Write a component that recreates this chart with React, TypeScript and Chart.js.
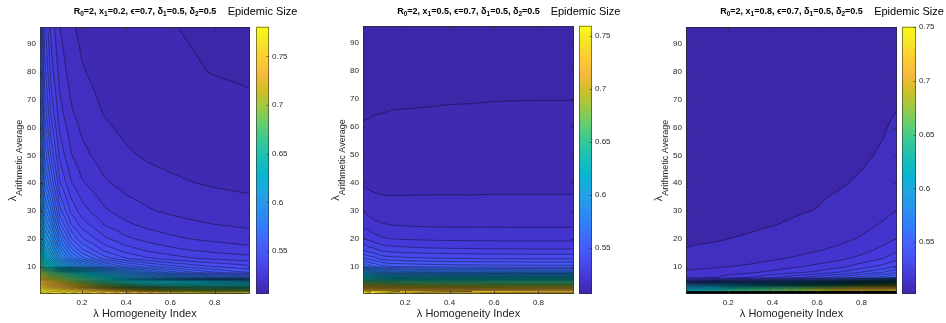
import React, { useEffect, useRef } from "react";
import { Chart, registerables } from "chart.js";

Chart.register(...registerables);

// ---------------- data ----------------
// grid columns: lambda (homogeneity index)
const LAMBDA = [0.01, 0.03, 0.06, 0.1, 0.15, 0.2, 0.3, 0.4, 0.5, 0.6, 0.7, 0.8, 0.9, 0.96];
// grid rows: Phi (arithmetic average)
const PHI = [0.2, 1, 2, 3, 4, 5, 6, 8, 10, 13, 16, 20, 25, 30, 40, 50, 65, 80, 96.2];

// epidemic size, one row per PHI value, one column per LAMBDA value
const SIZE_X1_02 = [
  [0.78, 0.776, 0.772, 0.77, 0.765, 0.76, 0.752, 0.744, 0.734, 0.725, 0.72, 0.718, 0.717, 0.716],
  [0.775, 0.77, 0.766, 0.765, 0.76, 0.755, 0.748, 0.74, 0.73, 0.72, 0.715, 0.712, 0.711, 0.71],
  [0.768, 0.763, 0.758, 0.755, 0.748, 0.742, 0.73, 0.715, 0.7, 0.69, 0.685, 0.682, 0.681, 0.68],
  [0.76, 0.752, 0.745, 0.74, 0.73, 0.72, 0.7, 0.68, 0.665, 0.658, 0.655, 0.652, 0.651, 0.65],
  [0.75, 0.74, 0.732, 0.725, 0.712, 0.7, 0.675, 0.655, 0.645, 0.64, 0.637, 0.635, 0.633, 0.632],
  [0.74, 0.73, 0.72, 0.71, 0.695, 0.68, 0.655, 0.64, 0.632, 0.628, 0.624, 0.62, 0.615, 0.61],
  [0.725, 0.715, 0.705, 0.695, 0.68, 0.665, 0.64, 0.62, 0.608, 0.6, 0.592, 0.585, 0.58, 0.578],
  [0.7, 0.69, 0.675, 0.665, 0.65, 0.635, 0.61, 0.59, 0.577, 0.567, 0.56, 0.555, 0.551, 0.549],
  [0.675, 0.655, 0.642, 0.62, 0.603, 0.592, 0.575, 0.564, 0.557, 0.552, 0.548, 0.545, 0.543, 0.541],
  [0.652, 0.632, 0.618, 0.5961, 0.5787, 0.5671, 0.5526, 0.545, 0.5405, 0.5375, 0.5353, 0.5337, 0.5325, 0.5318],
  [0.64, 0.62, 0.606, 0.5852, 0.5676, 0.5559, 0.5437, 0.5376, 0.5339, 0.5314, 0.5297, 0.5284, 0.5274, 0.5268],
  [0.628, 0.608, 0.597, 0.5733, 0.5556, 0.5458, 0.5361, 0.5311, 0.5282, 0.5262, 0.5248, 0.5238, 0.523, 0.5225],
  [0.618, 0.597, 0.585, 0.5613, 0.5455, 0.5377, 0.5299, 0.526, 0.5236, 0.522, 0.5209, 0.5201, 0.5195, 0.5191],
  [0.61, 0.588, 0.5754, 0.5519, 0.5388, 0.5323, 0.5258, 0.5225, 0.5205, 0.5192, 0.5183, 0.5176, 0.5171, 0.5168],
  [0.598, 0.574, 0.5599, 0.5403, 0.5305, 0.5256, 0.5207, 0.5182, 0.5167, 0.5158, 0.5151, 0.5145, 0.5141, 0.5139],
  [0.59, 0.565, 0.549, 0.5333, 0.5254, 0.5215, 0.5176, 0.5156, 0.5144, 0.5137, 0.5131, 0.5127, 0.5124, 0.5122],
  [0.58, 0.555, 0.5389, 0.5268, 0.5208, 0.5178, 0.5148, 0.5132, 0.5123, 0.5117, 0.5113, 0.511, 0.5108, 0.5106],
  [0.573, 0.548, 0.5326, 0.5228, 0.5179, 0.5154, 0.513, 0.5118, 0.511, 0.5105, 0.5102, 0.5099, 0.5097, 0.5096],
  [0.568, 0.542, 0.528, 0.5199, 0.5158, 0.5137, 0.5117, 0.5108, 0.5104, 0.5101, 0.5098, 0.5095, 0.5092, 0.509],
];

const SIZE_X1_05 = [
  [0.745, 0.742, 0.738, 0.735, 0.73, 0.728, 0.725, 0.723, 0.722, 0.721, 0.72, 0.72, 0.72, 0.72],
  [0.75, 0.748, 0.746, 0.745, 0.743, 0.741, 0.739, 0.738, 0.737, 0.736, 0.736, 0.735, 0.735, 0.735],
  [0.73, 0.728, 0.726, 0.724, 0.722, 0.72, 0.718, 0.717, 0.716, 0.716, 0.715, 0.715, 0.715, 0.715],
  [0.705, 0.703, 0.7, 0.698, 0.696, 0.694, 0.692, 0.691, 0.69, 0.69, 0.69, 0.69, 0.69, 0.69],
  [0.68, 0.677, 0.674, 0.672, 0.67, 0.668, 0.667, 0.666, 0.666, 0.665, 0.665, 0.665, 0.665, 0.665],
  [0.655, 0.652, 0.65, 0.648, 0.647, 0.646, 0.645, 0.645, 0.645, 0.645, 0.645, 0.645, 0.645, 0.645],
  [0.635, 0.632, 0.628, 0.625, 0.622, 0.621, 0.62, 0.62, 0.62, 0.62, 0.62, 0.62, 0.62, 0.62],
  [0.6, 0.596, 0.59, 0.584, 0.58, 0.578, 0.577, 0.576, 0.5755, 0.575, 0.5752, 0.575, 0.575, 0.575],
  [0.572, 0.564, 0.56, 0.5565, 0.555, 0.5545, 0.5535, 0.553, 0.5527, 0.5524, 0.5522, 0.552, 0.552, 0.552],
  [0.5502, 0.5485, 0.5463, 0.5425, 0.5415, 0.541, 0.5402, 0.5398, 0.5395, 0.5393, 0.5392, 0.539, 0.539, 0.539],
  [0.54, 0.5375, 0.5364, 0.5333, 0.5325, 0.532, 0.5313, 0.531, 0.5308, 0.5307, 0.5306, 0.5305, 0.5305, 0.5305],
  [0.5309, 0.5292, 0.527, 0.5255, 0.5248, 0.5244, 0.524, 0.5238, 0.5237, 0.5236, 0.5235, 0.5235, 0.5235, 0.5235],
  [0.5238, 0.5228, 0.5212, 0.5203, 0.5198, 0.5195, 0.5193, 0.5192, 0.5192, 0.5192, 0.5192, 0.5192, 0.5192, 0.5192],
  [0.5197, 0.5188, 0.5176, 0.517, 0.5168, 0.5167, 0.5167, 0.5167, 0.5167, 0.5167, 0.5167, 0.5167, 0.5167, 0.5167],
  [0.5142, 0.5139, 0.5136, 0.5134, 0.5135, 0.5136, 0.5137, 0.5137, 0.5137, 0.5138, 0.5138, 0.5138, 0.5138, 0.5138],
  [0.5118, 0.5117, 0.5118, 0.5116, 0.5117, 0.5118, 0.512, 0.5121, 0.5121, 0.5122, 0.5122, 0.5122, 0.5122, 0.5122],
  [0.5096, 0.5097, 0.5099, 0.51, 0.5101, 0.5101, 0.51015, 0.5102, 0.51023, 0.51026, 0.51028, 0.5103, 0.5103, 0.5103],
  [0.5084, 0.5085, 0.5086, 0.5088, 0.5089, 0.509, 0.5091, 0.5092, 0.5092, 0.5093, 0.5093, 0.5093, 0.5093, 0.5093],
  [0.5075, 0.5076, 0.5077, 0.5078, 0.5079, 0.508, 0.5081, 0.5082, 0.5083, 0.5084, 0.5084, 0.5085, 0.5085, 0.5085],
];

const SIZE_X1_08 = [
  [0.502, 0.502, 0.502, 0.502, 0.502, 0.502, 0.502, 0.502, 0.502, 0.502, 0.502, 0.502, 0.502, 0.502],
  [0.625, 0.622, 0.625, 0.63, 0.635, 0.645, 0.655, 0.665, 0.675, 0.69, 0.705, 0.72, 0.735, 0.745],
  [0.615, 0.612, 0.615, 0.62, 0.625, 0.635, 0.645, 0.655, 0.665, 0.68, 0.69, 0.705, 0.718, 0.73],
  [0.6, 0.597, 0.6, 0.605, 0.61, 0.615, 0.625, 0.635, 0.645, 0.655, 0.665, 0.68, 0.69, 0.7],
  [0.575, 0.572, 0.575, 0.578, 0.582, 0.585, 0.59, 0.595, 0.6, 0.61, 0.62, 0.635, 0.645, 0.655],
  [0.535, 0.536, 0.537, 0.538, 0.54, 0.545, 0.55, 0.555, 0.56, 0.565, 0.57, 0.58, 0.59, 0.6],
  [0.5191, 0.5191, 0.5192, 0.5194, 0.52, 0.523, 0.5255, 0.53, 0.534, 0.539, 0.543, 0.548, 0.553, 0.557],
  [0.5159, 0.516, 0.5162, 0.5163, 0.5167, 0.5173, 0.519, 0.5213, 0.5236, 0.5261, 0.53, 0.535, 0.54, 0.5445],
  [0.5137, 0.5138, 0.514, 0.5143, 0.5146, 0.515, 0.5158, 0.5174, 0.5195, 0.5213, 0.5235, 0.5277, 0.5318, 0.536],
  [0.5116, 0.5117, 0.5119, 0.512, 0.5123, 0.5127, 0.5132, 0.5142, 0.5155, 0.5171, 0.5188, 0.5214, 0.525, 0.5281],
  [0.5103, 0.5104, 0.5106, 0.5107, 0.5109, 0.5112, 0.5117, 0.5125, 0.5134, 0.5146, 0.516, 0.5181, 0.5214, 0.5238],
  [0.509, 0.5092, 0.5094, 0.5095, 0.5097, 0.51, 0.5104, 0.511, 0.5118, 0.5127, 0.5138, 0.5155, 0.5182, 0.5202],
  [0.508, 0.5083, 0.5085, 0.5086, 0.5089, 0.5091, 0.5095, 0.5099, 0.5104, 0.5111, 0.512, 0.5134, 0.5156, 0.5172],
  [0.5073, 0.5076, 0.5079, 0.508, 0.5083, 0.5085, 0.5089, 0.5093, 0.5097, 0.5101, 0.5109, 0.5121, 0.5138, 0.5151],
  [0.5065, 0.5068, 0.5071, 0.5073, 0.5076, 0.5078, 0.5082, 0.5085, 0.5089, 0.5093, 0.5097, 0.5104, 0.5117, 0.5132],
  [0.506, 0.5063, 0.5066, 0.5069, 0.5071, 0.5074, 0.5078, 0.5081, 0.5084, 0.5088, 0.5091, 0.5095, 0.5104, 0.5118],
  [0.5055, 0.5058, 0.5062, 0.5064, 0.5067, 0.507, 0.5074, 0.5077, 0.508, 0.5083, 0.5086, 0.5089, 0.5094, 0.5101],
  [0.5052, 0.5055, 0.5059, 0.5062, 0.5065, 0.5068, 0.5072, 0.5075, 0.5078, 0.508, 0.5082, 0.5085, 0.5088, 0.5093],
  [0.505, 0.5053, 0.5057, 0.506, 0.5063, 0.5066, 0.507, 0.5073, 0.5076, 0.5078, 0.508, 0.5082, 0.5084, 0.5085],
];

const X1_VALUES = ["0.2", "0.5", "0.8"];
const CLIM_MIN = [0.506, 0.5064, 0.502];
const CLIM_MAX = [0.7805, 0.7597, 0.75];
const LEVEL_START = 0.51;
const LEVEL_STEP = 0.005;

const X_MIN = 0.01;
const X_MAX = 0.96;
const Y_MIN = 0.2;
const Y_MAX = 96.2;
const X_TICKS = [0.2, 0.4, 0.6, 0.8];
const Y_TICKS = [10, 20, 30, 40, 50, 60, 70, 80, 90];
const CB_TICKS = [0.55, 0.6, 0.65, 0.7, 0.75];

const SIZES = [SIZE_X1_02, SIZE_X1_05, SIZE_X1_08];

// ---------------- style / layout ----------------
const W = 946;
const H = 323;
const PLOT_TOP = 20;
const PLOT_BOTTOM = 294;
const LAYOUT = [
  { canvasLeft: 0, canvasWidth: 305, plotLeft: 40, plotRight: 250, cbLeft: 256, cbRight: 269 },
  { canvasLeft: 322, canvasWidth: 320, plotLeft: 363, plotRight: 574, cbLeft: 579, cbRight: 592 },
  { canvasLeft: 645, canvasWidth: 301, plotLeft: 686, plotRight: 897, cbLeft: 902, cbRight: 916 },
];
const FONT = '"Liberation Sans", Arial, Helvetica, sans-serif';
const TEXT_COLOR = "#262626";

// MATLAB parula colormap key points [t, r, g, b]
const PARULA = [
  [0 / 63, 0.2422, 0.1504, 0.6603],
  [4 / 63, 0.2706, 0.2147, 0.8364],
  [8 / 63, 0.2813, 0.3006, 0.9414],
  [12 / 63, 0.2699, 0.3892, 0.9906],
  [16 / 63, 0.1963, 0.4847, 0.9892],
  [20 / 63, 0.1687, 0.5703, 0.9359],
  [24 / 63, 0.1248, 0.6459, 0.8883],
  [28 / 63, 0.0297, 0.7082, 0.8163],
  [32 / 63, 0.0964, 0.75, 0.712],
  [36 / 63, 0.2161, 0.7843, 0.5923],
  [40 / 63, 0.3909, 0.8029, 0.4354],
  [44 / 63, 0.6174, 0.7876, 0.2612],
  [48 / 63, 0.8203, 0.7498, 0.1535],
  [52 / 63, 0.9728, 0.7298, 0.2394],
  [56 / 63, 0.9892, 0.8136, 0.1885],
  [60 / 63, 0.9597, 0.9135, 0.1423],
  [63 / 63, 0.9769, 0.9839, 0.0805],
];

function parula(t: number): [number, number, number] {
  const v = Math.max(0, Math.min(1, t));
  for (let i = 0; i < PARULA.length - 1; i++) {
    const a = PARULA[i];
    const b = PARULA[i + 1];
    if (v <= b[0]) {
      const f = (v - a[0]) / (b[0] - a[0]);
      return [
        Math.round((a[1] + (b[1] - a[1]) * f) * 255),
        Math.round((a[2] + (b[2] - a[2]) * f) * 255),
        Math.round((a[3] + (b[3] - a[3]) * f) * 255),
      ];
    }
  }
  const l = PARULA[PARULA.length - 1];
  return [Math.round(l[1] * 255), Math.round(l[2] * 255), Math.round(l[3] * 255)];
}

function locate(arr: number[], v: number): [number, number] {
  const n = arr.length;
  if (v <= arr[0]) return [0, 0];
  if (v >= arr[n - 1]) return [n - 2, 1];
  let j = 0;
  while (j < n - 2 && arr[j + 1] <= v) j++;
  return [j, (v - arr[j]) / (arr[j + 1] - arr[j])];
}

type Seg = [string, boolean];

function drawRich(ctx: CanvasRenderingContext2D, segs: Seg[], cx: number, baseline: number, mainFont: string, subFont: string, subShift: number) {
  let total = 0;
  const widths: number[] = [];
  for (const [t, sub] of segs) {
    ctx.font = sub ? subFont : mainFont;
    const w = ctx.measureText(t).width;
    widths.push(w);
    total += w;
  }
  let x = cx - total / 2;
  ctx.textAlign = "left";
  ctx.textBaseline = "alphabetic";
  segs.forEach(([t, sub], i) => {
    ctx.font = sub ? subFont : mainFont;
    ctx.fillText(t, x, baseline + (sub ? subShift : 0));
    x += widths[i];
  });
}

const fmt = (v: any) => String(Math.round(Number(v) * 1000) / 1000);

function drawPanel(chart: any, idx: number) {
  const L = LAYOUT[idx];
  const Z = SIZES[idx];
  const cmin = CLIM_MIN[idx];
  const cmax = CLIM_MAX[idx];
  const ctx: CanvasRenderingContext2D = chart.ctx;
  const xs = chart.scales.x;
  const ys = chart.scales.y;
  const cs = chart.scales.c;
  const area = chart.chartArea;
  const left = Math.round(area.left);
  const top = Math.round(area.top);
  const w = Math.round(area.right) - left;
  const h = Math.round(area.bottom) - top;

  const nLevels = Math.floor((cmax - LEVEL_START) / LEVEL_STEP + 1e-9) + 1;
  const levels: number[] = [];
  for (let k = 0; k < nLevels; k++) levels.push(LEVEL_START + k * LEVEL_STEP);
  const bandColors = levels.map((lv) => parula((lv - cmin) / (cmax - cmin)));
  const baseColor = parula(0);

  // sample the grid at every pixel centre (bilinear between grid nodes)
  const cj: number[] = [];
  const cf: number[] = [];
  for (let i = 0; i < w; i++) {
    const [j, f] = locate(LAMBDA, xs.getValueForPixel(left + i + 0.5));
    cj.push(j);
    cf.push(f);
  }
  const z = new Float32Array(w * h);
  for (let r = 0; r < h; r++) {
    const [k, g] = locate(PHI, ys.getValueForPixel(top + r + 0.5));
    const r0 = Z[k];
    const r1 = Z[k + 1];
    for (let i = 0; i < w; i++) {
      const j = cj[i];
      const f = cf[i];
      const a = r0[j] * (1 - f) + r0[j + 1] * f;
      const b = r1[j] * (1 - f) + r1[j + 1] * f;
      z[r * w + i] = a * (1 - g) + b * g;
    }
  }

  // filled bands
  const img = ctx.createImageData(w, h);
  for (let p = 0; p < w * h; p++) {
    const k = Math.floor((z[p] - LEVEL_START) / LEVEL_STEP);
    const col = k < 0 ? baseColor : bandColors[Math.min(k, nLevels - 1)];
    img.data[p * 4] = col[0];
    img.data[p * 4 + 1] = col[1];
    img.data[p * 4 + 2] = col[2];
    img.data[p * 4 + 3] = 255;
  }
  ctx.putImageData(img, left, top);

  // contour lines (marching squares)
  ctx.save();
  ctx.beginPath();
  ctx.rect(left, top, w, h);
  ctx.clip();
  ctx.beginPath();
  for (let r = 0; r < h - 1; r++) {
    for (let i = 0; i < w - 1; i++) {
      const a = z[r * w + i];
      const b = z[r * w + i + 1];
      const c = z[(r + 1) * w + i + 1];
      const d = z[(r + 1) * w + i];
      const mn = Math.min(a, b, c, d);
      const mx = Math.max(a, b, c, d);
      let k0 = Math.ceil((mn - LEVEL_START) / LEVEL_STEP);
      let k1 = Math.floor((mx - LEVEL_START) / LEVEL_STEP);
      if (k0 < 0) k0 = 0;
      if (k1 > nLevels - 1) k1 = nLevels - 1;
      const x0 = left + i + 0.5;
      const y0 = top + r + 0.5;
      for (let k = k0; k <= k1; k++) {
        const lv = levels[k];
        const pts: number[] = [];
        if ((a >= lv) !== (b >= lv)) pts.push(x0 + (lv - a) / (b - a), y0);
        if ((b >= lv) !== (c >= lv)) pts.push(x0 + 1, y0 + (lv - b) / (c - b));
        if ((d >= lv) !== (c >= lv)) pts.push(x0 + (lv - d) / (c - d), y0 + 1);
        if ((a >= lv) !== (d >= lv)) pts.push(x0, y0 + (lv - a) / (d - a));
        for (let q = 0; q + 3 < pts.length; q += 4) {
          ctx.moveTo(pts[q], pts[q + 1]);
          ctx.lineTo(pts[q + 2], pts[q + 3]);
        }
      }
    }
  }
  ctx.strokeStyle = "rgba(0,0,0,0.7)";
  ctx.lineWidth = 0.6;
  ctx.stroke();
  ctx.restore();

  // axes box and inward ticks
  ctx.save();
  ctx.strokeStyle = "rgba(38,38,38,0.7)";
  ctx.lineWidth = 1;
  ctx.strokeRect(left + 0.5, top + 0.5, w - 1, h - 1);
  ctx.beginPath();
  const tl = 3;
  X_TICKS.forEach((v) => {
    const px = Math.round(xs.getPixelForValue(v)) + 0.5;
    ctx.moveTo(px, top + h);
    ctx.lineTo(px, top + h - tl);
    ctx.moveTo(px, top);
    ctx.lineTo(px, top + tl);
  });
  Y_TICKS.forEach((v) => {
    const py = Math.round(ys.getPixelForValue(v)) + 0.5;
    ctx.moveTo(left, py);
    ctx.lineTo(left + tl, py);
    ctx.moveTo(left + w, py);
    ctx.lineTo(left + w - tl, py);
  });
  ctx.stroke();

  // colour bar
  const cbx = L.cbLeft - L.canvasLeft;
  const cbw = L.cbRight - L.cbLeft;
  const yTop = cs.getPixelForValue(cmax);
  const yBot = cs.getPixelForValue(cmin);
  const grd = ctx.createLinearGradient(0, yBot, 0, yTop);
  PARULA.forEach((p) => {
    grd.addColorStop(p[0], `rgb(${Math.round(p[1] * 255)},${Math.round(p[2] * 255)},${Math.round(p[3] * 255)})`);
  });
  ctx.fillStyle = grd;
  ctx.fillRect(cbx, yTop, cbw, yBot - yTop);
  ctx.strokeStyle = "rgba(38,38,38,0.55)";
  ctx.strokeRect(cbx + 0.5, yTop + 0.5, cbw - 1, yBot - yTop - 1);
  ctx.beginPath();
  CB_TICKS.forEach((v) => {
    const py = Math.round(cs.getPixelForValue(v)) + 0.5;
    ctx.moveTo(cbx + cbw, py);
    ctx.lineTo(cbx + cbw - 2.5, py);
  });
  ctx.stroke();
  ctx.restore();

  // texts
  ctx.save();
  ctx.fillStyle = "#000000";
  const cx = left + w / 2;
  const title: Seg[] = [
    ["R", false], ["0", true], ["=2, x", false], ["1", true],
    [`=${X1_VALUES[idx]}, \u03F5=0.7, \u03B4`, false], ["1", true],
    ["=0.5, \u03B4", false], ["2", true], ["=0.5", false],
  ];
  drawRich(ctx, title, cx, 13.5, `bold 9px ${FONT}`, `bold 6.5px ${FONT}`, 2);

  ctx.fillStyle = "#000000";
  ctx.font = `11px ${FONT}`;
  ctx.textAlign = "center";
  ctx.textBaseline = "alphabetic";
  ctx.fillText("Epidemic Size", cbx + cbw / 2, 14.5);

  ctx.fillStyle = TEXT_COLOR;
  ctx.font = `11px ${FONT}`;
  ctx.fillText("\u03BB Homogeneity Index", cx, 317);

  ctx.translate(left - 24, top + h / 2);
  ctx.rotate(-Math.PI / 2);
  drawRich(ctx, [["\u03BB", false], ["Arithmetic Average", true]], 0, 0, `11px ${FONT}`, `9px ${FONT}`, 6);
  ctx.restore();
}

function Panel({ idx }: { idx: number }) {
  const ref = useRef<HTMLCanvasElement>(null);
  const L = LAYOUT[idx];
  useEffect(() => {
    const canvas = ref.current;
    if (!canvas) return;
    const tickFont = { family: FONT, size: 8 };
    const common = {
      type: "linear" as const,
      grid: { display: false, drawTicks: false },
      border: { display: false },
    };
    const chart = new Chart(canvas, {
      type: "scatter",
      data: { datasets: [{ data: [] }] },
      options: {
        animation: false,
        responsive: false,
        devicePixelRatio: 1,
        events: [],
        layout: { padding: { top: PLOT_TOP, left: 0, right: 0, bottom: 0 } },
        plugins: { legend: { display: false }, tooltip: { enabled: false }, title: { display: false } },
        scales: {
          x: {
            ...common,
            position: "bottom",
            min: X_MIN,
            max: X_MAX,
            ticks: { autoSkip: false, maxRotation: 0, padding: 4, color: TEXT_COLOR, font: tickFont, callback: fmt },
            afterBuildTicks: (s: any) => { s.ticks = X_TICKS.map((v) => ({ value: v })); },
            afterFit: (s: any) => { s.height = H - PLOT_BOTTOM; },
          },
          y: {
            ...common,
            position: "left",
            min: Y_MIN,
            max: Y_MAX,
            ticks: { autoSkip: false, padding: 4, color: TEXT_COLOR, font: tickFont, callback: fmt },
            afterBuildTicks: (s: any) => { s.ticks = Y_TICKS.map((v) => ({ value: v })); },
            afterFit: (s: any) => { s.width = L.plotLeft - L.canvasLeft; },
          },
          c: {
            ...common,
            position: "right",
            min: CLIM_MIN[idx],
            max: CLIM_MAX[idx],
            ticks: { autoSkip: false, padding: L.cbRight - L.plotRight + 3, color: TEXT_COLOR, font: tickFont, callback: fmt },
            afterBuildTicks: (s: any) => { s.ticks = CB_TICKS.map((v) => ({ value: v })); },
            afterFit: (s: any) => { s.width = L.canvasLeft + L.canvasWidth - L.plotRight; },
          },
        },
      } as any,
      plugins: [{ id: "contourf" + idx, afterDraw: (c: any) => drawPanel(c, idx) }],
    });
    return () => chart.destroy();
  }, [idx]);
  return (
    <canvas
      ref={ref}
      width={L.canvasWidth}
      height={H}
      style={{ position: "absolute", left: L.canvasLeft, top: 0, width: L.canvasWidth, height: H }}
    />
  );
}

export default function App() {
  return (
    <div style={{ position: "fixed", left: 0, top: 0, width: W, height: H, background: "#ffffff", overflow: "hidden" }}>
      <Panel idx={0} />
      <Panel idx={1} />
      <Panel idx={2} />
    </div>
  );
}
